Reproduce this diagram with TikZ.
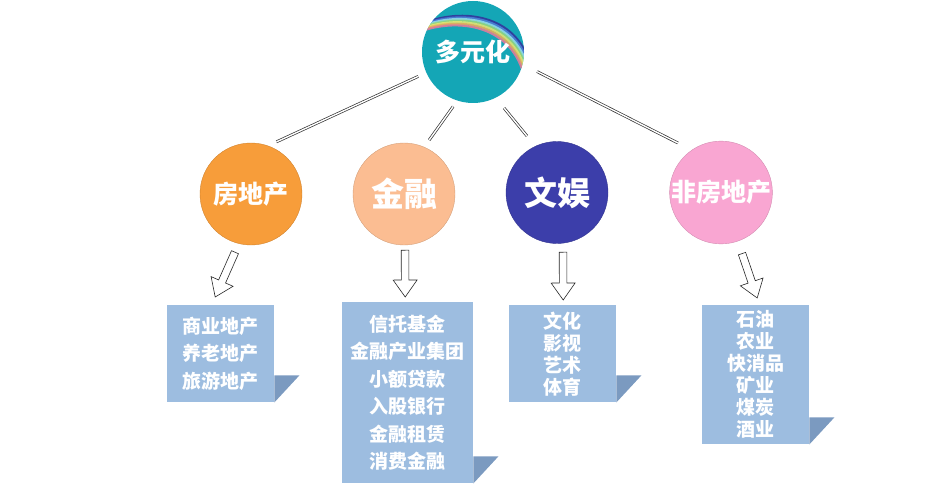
\documentclass[tikz,border=0pt]{standalone}
\usepackage{fontspec}
\newfontfamily\cjk{Noto Sans CJK SC}
\usetikzlibrary{calc}
\definecolor{tealc}{HTML}{14A6B6}
\definecolor{orangec}{HTML}{F79D3A}
\definecolor{peachc}{HTML}{FBBD92}
\definecolor{bluec}{HTML}{3C3EAA}
\definecolor{pinkc}{HTML}{F9A6D2}
\definecolor{boxc}{HTML}{9DBDE0}
\definecolor{foldc}{HTML}{7B9AC0}
\definecolor{rb1}{HTML}{33309A}
\definecolor{rb2}{HTML}{4F78D8}
\definecolor{rb3}{HTML}{9ADCEB}
\definecolor{rb4}{HTML}{9AD87E}
\definecolor{rb5}{HTML}{EFE86E}
\definecolor{rb6}{HTML}{F2AE58}
\definecolor{rb7}{HTML}{E97A9A}
\tikzset{
  circ/.style={circle, minimum size=102pt, inner sep=0pt, text=white,
    font=\cjk\bfseries\fontsize{25}{25}\selectfont},
  bigtxt/.style={font=\cjk\bfseries\fontsize{33}{33}\selectfont},
  box/.style={rectangle, fill=boxc, text=white, inner sep=0pt, align=center,
    anchor=north west},
  wide/.style={font=\cjk\bfseries\fontsize{19}{27.5}\selectfont},
  narrow/.style={font=\cjk\bfseries\fontsize{19}{22}\selectfont},
  link/.style={draw=black!80, double=white, double distance=1.4pt, line width=0.7pt},
  fold/.style={fill=foldc},
  hollow/.style={draw=black!85, fill=white, line width=0.6pt, line join=miter,
    to path={
      ($(\tikztostart)!3.8pt!90:(\tikztotarget)$)
      -- ($($(\tikztotarget)!17pt!(\tikztostart)$)!3.8pt!-90:(\tikztostart)$)
      -- ($($(\tikztotarget)!17pt!(\tikztostart)$)!12pt!-90:(\tikztostart)$)
      -- (\tikztotarget)
      -- ($($(\tikztotarget)!17pt!(\tikztostart)$)!12pt!90:(\tikztostart)$)
      -- ($($(\tikztotarget)!17pt!(\tikztostart)$)!3.8pt!90:(\tikztostart)$)
      -- ($(\tikztostart)!3.8pt!-90:(\tikztotarget)$)
      -- cycle}}
}
\begin{document}
\begin{tikzpicture}[x=1pt, y=1pt]
\useasboundingbox (0,0) rectangle (950,-500);
% top circle with rainbow
\fill[tealc] (473,-52) circle (51);
\begin{scope}
  \clip (473,-52) circle (51);
  \foreach \c [count=\i from 0] in {rb1,rb2,rb3,rb4,rb5,rb6,rb7}
    \draw[\c, line width=2.1pt, opacity=0.85, shift={(-1.1*\i,-1.6*\i)}]
      (424,-23) .. controls (462,-8) and (516,-14) .. (530,-64);
\end{scope}
\node[circ] (top) at (473,-52) {多元化};
% second-level circles
\node[circ, fill=orangec, draw=orangec!85!black, line width=0.4pt] (fdc) at (251,-194) {房地产};
\node[circ, bigtxt, fill=peachc, draw=peachc!85!black, line width=0.4pt] (jr) at (404,-194) {金融};
\node[circ, bigtxt, fill=bluec, draw=bluec!85!black, line width=0.4pt] (wy) at (557,-192.5) {文娱};
\node[circ, fill=pinkc, draw=pinkc!85!black, line width=0.4pt] (ffdc) at (721,-192.5) {非房地产};
% links
\draw[link] ($(top)+(204:60)$) -- ($(fdc)+(64:58)$);
\draw[link] ($(top)+(250:58)$) -- ($(jr)+(65:59.5)$);
\draw[link] ($(top)+(299:64)$) -- ($(wy)+(118:64)$);
\draw[link] ($(top)+(343:67)$) -- ($(ffdc)+(131:65.6)$);
% boxes
\node[box, wide, minimum width=107pt, minimum height=97pt] (b1) at (167,-305)
  {商业地产\\养老地产\\旅游地产};
\node[box, wide, minimum width=131pt, minimum height=181pt] (b2) at (342,-302)
  {信托基金\\金融产业集团\\小额贷款\\入股银行\\金融租赁\\消费金融};
\node[box, narrow, minimum width=107pt, minimum height=97pt] (b3) at (509,-305)
  {文化\\影视\\艺术\\体育};
\node[box, narrow, minimum width=107pt, minimum height=139pt] (b4) at (702,-305)
  {石油\\农业\\快消品\\矿业\\煤炭\\酒业};
% folds
\foreach \b in {b1,b2,b3,b4}
  \fill[fold] (\b.south east) -- ++(0,27) -- ++(25,0) -- cycle;
% arrows
\coordinate (a1s) at ($(fdc.south)+(-16,-7)$);
\coordinate (a1t) at ($(b1.north)+(-5.5,8)$);
\coordinate (a2s) at ($(jr.south)+(1,-5)$);
\coordinate (a2t) at ($(b2.north)+(-2.5,5)$);
\coordinate (a3s) at ($(wy.south)+(6,-8.5)$);
\coordinate (a3t) at ($(b3.north)+(0.5,5)$);
\coordinate (a4s) at ($(ffdc.south)+(21,-9.5)$);
\coordinate (a4t) at ($(b4.north)+(1.5,7)$);
\draw[hollow] (a1s) to (a1t);
\draw[hollow] (a2s) to (a2t);
\draw[hollow] (a3s) to (a3t);
\draw[hollow] (a4s) to (a4t);
\end{tikzpicture}
\end{document}
